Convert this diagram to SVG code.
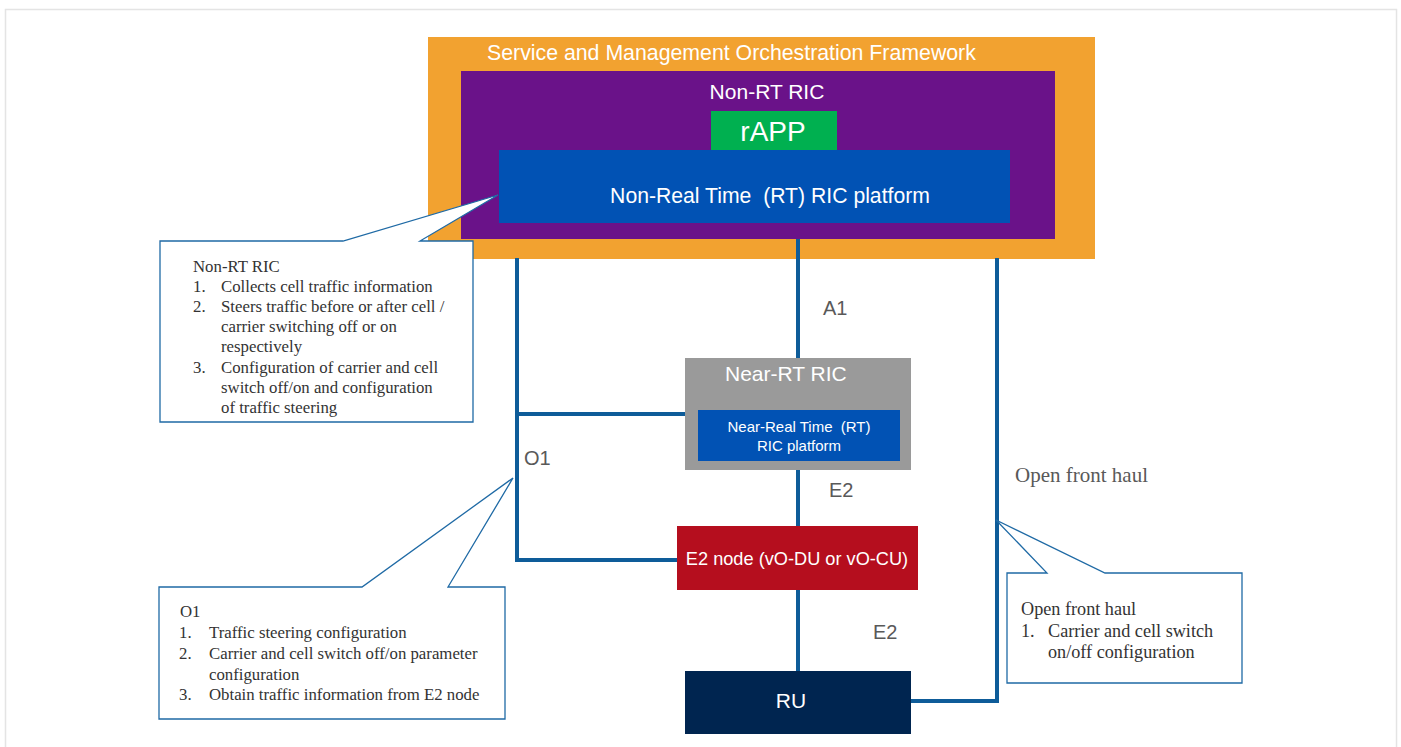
<svg xmlns="http://www.w3.org/2000/svg" width="1401" height="747" viewBox="0 0 1401 747">
<style>
.sans{font-family:"Liberation Sans",Arial,sans-serif}
.serif{font-family:"Liberation Serif","Times New Roman",serif}
.wt{fill:#ffffff}
.lbl{fill:#595959;font-size:20px}
.conn{fill:none;stroke:#0e5c99;stroke-width:4;stroke-linecap:butt;stroke-linejoin:miter}
.callout{fill:#ffffff;stroke:#1f6aa5;stroke-width:1.3}
.ct{fill:#333333;font-size:16.8px}
.ct2{fill:#333333;font-size:18.2px}
</style>
<rect x="5.5" y="9.5" width="1391" height="745" fill="#ffffff" stroke="#e4e4e4" stroke-width="1.5"/>

<g id="smo">
<rect x="428" y="37" width="667" height="222" fill="#f2a230"/>
<text x="487" y="60" class="sans wt" font-size="21.3">Service and Management Orchestration Framework</text>
</g>
<g id="nonrt-ric">
<rect x="461" y="71" width="594" height="168" fill="#6a1289"/>
<text x="767" y="99" class="sans wt" font-size="21" text-anchor="middle">Non-RT RIC</text>
</g>
<g id="rapp">
<rect x="711" y="111" width="126" height="41" fill="#00b050"/>
<text x="773" y="141" class="sans wt" font-size="28" text-anchor="middle">rAPP</text>
</g>
<g id="nonrt-platform">
<rect x="499" y="150" width="511" height="73" fill="#0152b4"/>
<text x="770" y="203" class="sans wt" font-size="21.2" text-anchor="middle" xml:space="preserve">Non-Real Time  (RT) RIC platform</text>
</g>

<g id="connectors">
<path class="conn" d="M798 239 V358"/>
<path class="conn" d="M517 258 V560 H677"/>
<path class="conn" d="M517 414 H685"/>
<path class="conn" d="M798 470 V526"/>
<path class="conn" d="M798 590 V671"/>
<path class="conn" d="M997 258 V701 H911"/>
</g>

<g id="near-rt-ric">
<rect x="685" y="358" width="226" height="112" fill="#9a9a9a"/>
<text x="725" y="381" class="sans wt" font-size="21">Near-RT RIC</text>
</g>
<g id="nearrt-platform">
<rect x="698" y="410" width="202" height="51" fill="#0152b4"/>
<text x="799" y="432" class="sans wt" font-size="15" text-anchor="middle" xml:space="preserve">Near-Real Time  (RT)</text>
<text x="799" y="451" class="sans wt" font-size="15" text-anchor="middle">RIC platform</text>
</g>
<g id="e2-node">
<rect x="677" y="526" width="241" height="64" fill="#b50e1e"/>
<text x="797" y="565" class="sans wt" font-size="18.2" text-anchor="middle">E2 node (vO-DU or vO-CU)</text>
</g>
<g id="ru">
<rect x="685" y="671" width="226" height="63" fill="#002550"/>
<text x="791" y="708" class="sans wt" font-size="21" text-anchor="middle">RU</text>
</g>

<g id="labels">
<text x="823" y="315" class="sans lbl">A1</text>
<text x="524" y="465" class="sans lbl">O1</text>
<text x="829" y="497" class="sans lbl">E2</text>
<text x="873" y="639" class="sans lbl">E2</text>
<text x="1015" y="482" class="serif" font-size="21" fill="#595959">Open front haul</text>
</g>

<g id="callout-nonrt">
<path class="callout" d="M160 241 H343 L498 195 L420 241 H473 V422 H160 Z"/>
<text class="serif ct" x="193" y="272">Non-RT RIC</text>
<text class="serif ct" x="193" y="292">1.</text>
<text class="serif ct" x="221" y="292">Collects cell traffic information</text>
<text class="serif ct" x="193" y="312">2.</text>
<text class="serif ct" x="221" y="312">Steers traffic before or after cell /</text>
<text class="serif ct" x="221" y="332">carrier switching off or on</text>
<text class="serif ct" x="221" y="352">respectively</text>
<text class="serif ct" x="193" y="373">3.</text>
<text class="serif ct" x="221" y="373">Configuration of carrier and cell</text>
<text class="serif ct" x="221" y="393">switch off/on and configuration</text>
<text class="serif ct" x="221" y="413">of traffic steering</text>
</g>

<g id="callout-o1">
<path class="callout" d="M159 587 H362 L513 478 L448 587 H505 V719 H159 Z"/>
<text class="serif ct" x="180" y="617">O1</text>
<text class="serif ct" x="179" y="638">1.</text>
<text class="serif ct" x="209" y="638">Traffic steering configuration</text>
<text class="serif ct" x="179" y="659">2.</text>
<text class="serif ct" x="209" y="659">Carrier and cell switch off/on parameter</text>
<text class="serif ct" x="209" y="680">configuration</text>
<text class="serif ct" x="179" y="700">3.</text>
<text class="serif ct" x="209" y="700">Obtain traffic information from E2 node</text>
</g>

<g id="callout-fronthaul">
<path class="callout" d="M1007 573 H1047 L996 520 L1105 573 H1242 V683 H1007 Z"/>
<text class="serif ct2" x="1021" y="615">Open front haul</text>
<text class="serif ct2" x="1021" y="637">1.</text>
<text class="serif ct2" x="1048" y="637">Carrier and cell switch</text>
<text class="serif ct2" x="1048" y="658">on/off configuration</text>
</g>
</svg>
